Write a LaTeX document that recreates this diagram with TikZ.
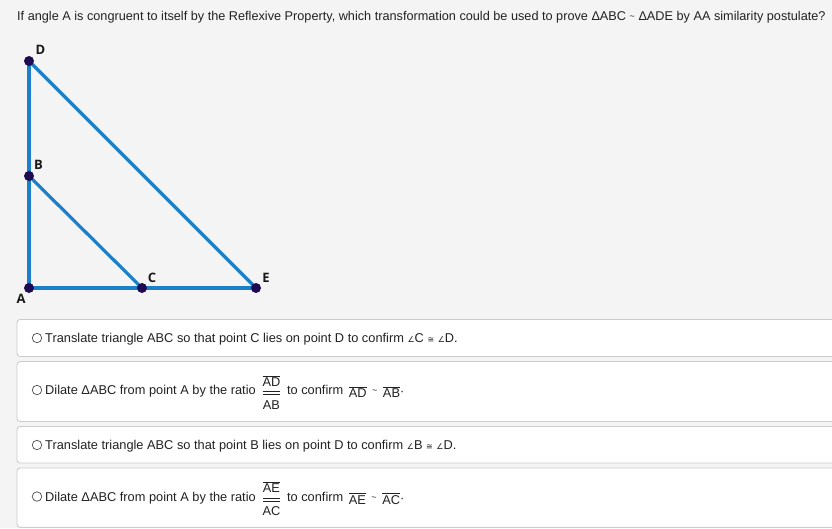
\documentclass[tikz,border=0pt]{standalone}
\usepackage{fontspec}
\setmainfont{Liberation Sans}
\newfontfamily\symfont{DejaVu Sans}
\newfontfamily\labfont{Open Sans}
\usepackage{amsmath}
\definecolor{bg}{HTML}{F4F4F4}
\definecolor{boxline}{HTML}{CCCCCC}
\definecolor{segblue}{HTML}{1C7FC9}
\definecolor{dotnavy}{HTML}{1E0B52}
\definecolor{txt}{HTML}{222222}
\newcommand\ovl[1]{$\overline{\hbox{#1}}$}
\newcommand\angsym{{\symfont\fontsize{8}{9}\selectfont ∠}}
\newcommand\congsym{{\symfont\fontsize{8}{9}\selectfont ≅}}
\newcommand\simsym{{\fontsize{9}{9}\selectfont\raisebox{1pt}{\textasciitilde}}}
\newcommand\ratio[2]{\hspace{2pt}$\displaystyle\genfrac{}{}{0.6pt}{}{\overline{\hbox{#1}}\rule[-2pt]{0pt}{0pt}}{\overline{\hbox{\rule{0pt}{13pt}#2}}}$\hspace{2pt}}
\begin{document}
\begin{tikzpicture}[x=1pt,y=-1pt,
  seg/.style={draw=segblue,line width=3.2pt},
  dotpt/.style={circle,fill=dotnavy,inner sep=0pt,minimum size=10pt},
  ptlabel/.style={font=\labfont\bfseries\fontsize{13}{14}\selectfont\color{black!90}},
  optbox/.style={draw=boxline,fill=white,line width=0.9pt,rounded corners=3pt},
  radio/.style={circle,draw=black!70,line width=0.7pt,minimum size=9.5pt,inner sep=0pt},
  opttext/.style={anchor=base west,inner sep=0pt,font=\fontsize{12.8}{14}\selectfont\color{txt}},
  qtext/.style={anchor=west,inner sep=0pt,font=\fontsize{12.7}{14}\selectfont\color{txt}}]
\useasboundingbox (0,0) rectangle (832,528);
\clip (0,0) rectangle (832,528);
\fill[bg] (0,0) rectangle (832,528);
% question
\node[qtext] (q) at (17,17) {If angle A is congruent to itself by the Reflexive Property, which transformation could be used to prove ΔABC \simsym{} ΔADE by AA similarity postulate?};
% figure
\coordinate (A) at (29,288);
\coordinate (B) at (29,176);
\coordinate (C) at (142,288);
\coordinate (D) at (29,61);
\coordinate (E) at (256,288);
\draw[seg] (A) -- (D);
\draw[seg] (B) -- (C);
\draw[seg] (D) -- (E);
\draw[seg] (A) -- (E);
\node[dotpt] (dA) at (A) {};
\node[dotpt] (dB) at (B) {};
\node[dotpt] (dC) at (C) {};
\node[dotpt] (dD) at (D) {};
\node[dotpt] (dE) at (E) {};
\node[ptlabel] (lD) at (40.5,50) {D};
\node[ptlabel] (lB) at (38.5,165) {B};
\node[ptlabel] (lC) at (152,278) {C};
\node[ptlabel] (lE) at (266,278) {E};
\node[ptlabel] (lA) at (21,299) {A};
% option boxes
\draw[optbox] (17,319.5) rectangle (845,356.5);
\draw[optbox] (17,361.5) rectangle (845,421.5);
\draw[optbox] (17,426.5) rectangle (845,463);
\draw[optbox] (17,468) rectangle (845,527.3);
% option 1
\node[radio] (r1) at (37,338) {};
\node[opttext] (o1) at (45,342.5) {Translate triangle ABC so that point C lies on point D to confirm \angsym C \congsym{} \angsym D.};
% option 2
\node[radio] (r2) at (37,390) {};
\node[opttext] (o2) at (45,394.5) {Dilate ΔABC from point A by the ratio \ratio{AD}{AB} to confirm \hspace{2pt}\raisebox{-3pt}{\ovl{AD}}\hspace{2pt} \simsym{} \hspace{2pt}\raisebox{-3pt}{\ovl{AB}}\raisebox{-1pt}{·}};
% option 3
\node[radio] (r3) at (37,445) {};
\node[opttext] (o3) at (45,449.5) {Translate triangle ABC so that point B lies on point D to confirm \angsym B \congsym{} \angsym D.};
% option 4
\node[radio] (r4) at (37,496.5) {};
\node[opttext] (o4) at (45,501) {Dilate ΔABC from point A by the ratio \ratio{AE}{AC} to confirm \hspace{2pt}\raisebox{-3pt}{\ovl{AE}}\hspace{2pt} \simsym{} \hspace{2pt}\raisebox{-3pt}{\ovl{AC}}\raisebox{-1pt}{·}};
\end{tikzpicture}
\end{document}
